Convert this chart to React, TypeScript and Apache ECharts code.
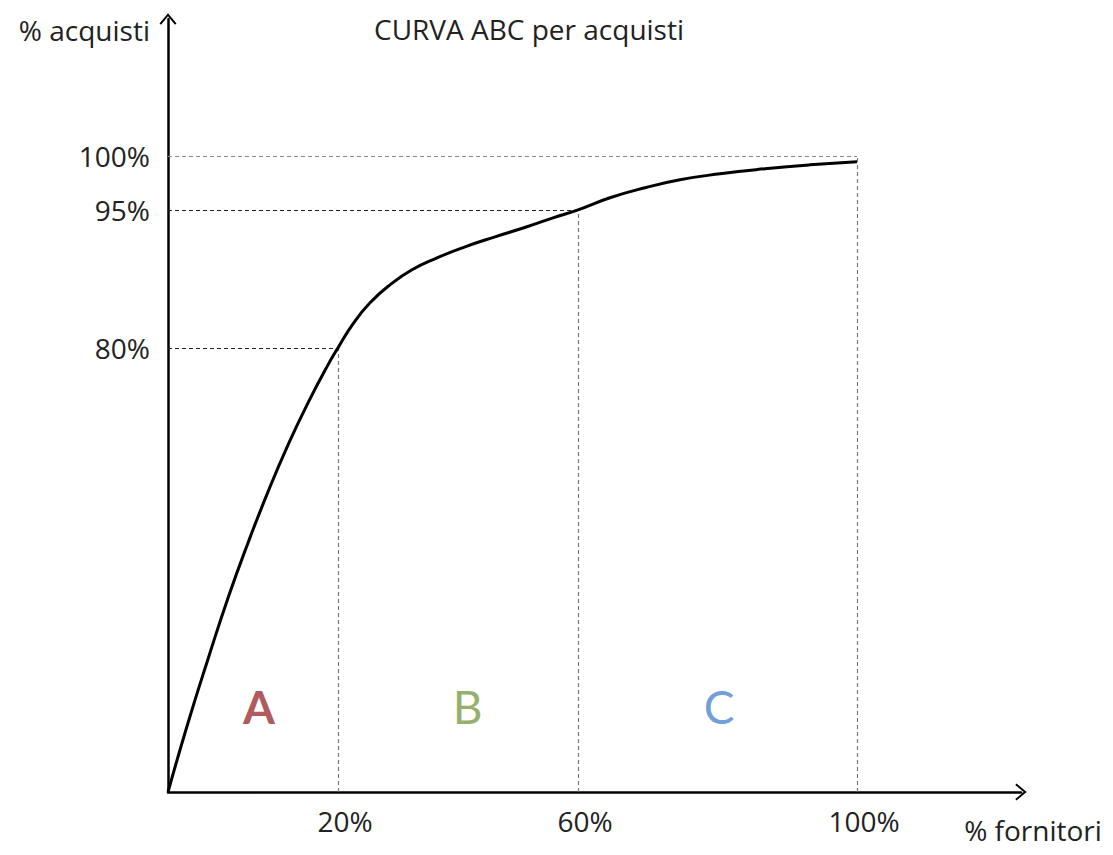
import React, { useEffect, useRef } from "react";
import * as echarts from "echarts";

// Schematic ABC curve: the picture's axes are not drawn to scale, so positions
// are in "drawing units" (0..100 between the origin and the 100% marks).
const curveX = [0, 2.9, 5.81, 8.71, 11.61, 14.51, 17.42, 20.32, 23.22, 24.67, 26.85, 29.32, 32.22, 35.41, 39.04, 43.11, 47.46, 52.1, 55.88, 59.51, 64.15, 69.23, 74.31, 80.12, 86.65, 93.18, 100];
const curveY = [0, 10.85, 20.91, 30.5, 39.15, 47.17, 54.56, 61.16, 67.14, 69.81, 73.58, 76.89, 79.72, 82.08, 83.96, 85.69, 87.26, 88.84, 90.25, 91.51, 93.4, 94.97, 96.23, 97.17, 97.96, 98.58, 99.06];

// where the schematic puts its tick marks, and what they say
const xMarkPos = [24.67, 59.51, 100];
const xMarkLabels = ["20%", "60%", "100%"];
const yMarkPos = [69.81, 91.51, 100];
const yMarkLabels = ["80%", "95%", "100%"];

// zone letters
const zoneNames = ["A", "B", "C"];
const zoneX = [13.2, 43.5, 80.0];
const zoneY = [13.5, 13.5, 13.5];
const zoneColors = ["#9b2f32", "#7b9b42", "#4a86cc"];

const titleText = "CURVA ABC per acquisti";
const xName = "% fornitori";
const yName = "% acquisti";

const FONT = "'Open Sans', Lato, sans-serif";
const LETTER_FONT = "Lato, 'Open Sans', sans-serif";
const ARROW = "path://M10 0 L20 12 L18.2 13.4 L10 3.6 L1.8 13.4 L0 12 Z";

export default function App() {
  const ref = useRef<HTMLDivElement>(null);
  useEffect(() => {
    document.body.style.margin = "0";
    const chart = echarts.init(ref.current!, undefined, { renderer: "svg" });
    const curve = curveX.map((x, i) => [x, curveY[i]]);
    const hLines = yMarkPos.map((y, i) => [
      { coord: [0, y], lineStyle: { color: i === 2 ? "#8a8a8a" : "#222", width: 1.2, type: [4, 3] } },
      { coord: [xMarkPos[i], y] },
    ]);
    const vLines = xMarkPos.map((x, i) => [
      { coord: [x, 0], lineStyle: { color: "#7a7a7a", width: 1.2, type: [4, 3] } },
      { coord: [x, yMarkPos[i]] },
    ]);
    const axisLine = {
      show: true,
      lineStyle: { color: "#000", width: 2.5 },
      symbol: ["none", ARROW],
      symbolSize: [17, 13],
    };
    chart.setOption({
      animation: false,
      backgroundColor: "#fff",
      title: {
        text: titleText,
        left: 369,
        top: 10,
        textStyle: { fontFamily: FONT, fontSize: 28, fontWeight: "normal", color: "#222" },
      },
      grid: { left: 168, right: 92, top: 19, bottom: 63, containLabel: false },
      xAxis: {
        type: "value",
        min: 0,
        max: 123.8,
        name: xName,
        nameLocation: "end",
        nameGap: 12,
        nameTextStyle: {
          fontFamily: FONT, fontSize: 28, color: "#222",
          align: "center", verticalAlign: "top", padding: [24, 0, 0, 0],
        },
        axisLine,
        axisTick: { show: false },
        splitLine: { show: false },
        axisLabel: {
          customValues: xMarkPos,
          formatter: (v: number) => {
            const i = xMarkPos.findIndex((p) => Math.abs(p - v) < 1e-6);
            return i >= 0 ? xMarkLabels[i] : "";
          },
          margin: 15,
          padding: [0, 0, 0, 14],
          fontFamily: FONT,
          fontSize: 28,
          color: "#222",
        },
      },
      yAxis: {
        type: "value",
        min: 0,
        max: 121.5,
        name: yName,
        nameLocation: "end",
        nameGap: -11,
        nameTextStyle: {
          fontFamily: FONT, fontSize: 28, color: "#222",
          align: "right", verticalAlign: "middle", padding: [0, 18, 0, 0],
        },
        axisLine,
        axisTick: { show: false },
        splitLine: { show: false },
        axisLabel: {
          customValues: yMarkPos,
          formatter: (v: number) => {
            const i = yMarkPos.findIndex((p) => Math.abs(p - v) < 1e-6);
            return i >= 0 ? yMarkLabels[i] : "";
          },
          margin: 18,
          fontFamily: FONT,
          fontSize: 28,
          color: "#222",
        },
      },
      series: [
        {
          type: "line",
          data: curve,
          smooth: 0.5,
          showSymbol: false,
          symbol: "none",
          clip: false,
          lineStyle: { color: "#000", width: 3 },
          z: 5,
          markLine: {
            silent: true,
            symbol: ["none", "none"],
            label: { show: false },
            data: [...hLines, ...vLines],
          },
        },
        {
          type: "scatter",
          symbolSize: 0,
          silent: true,
          data: zoneNames.map((n, i) => ({
            name: n,
            value: [zoneX[i], zoneY[i]],
            label: {
              show: true,
              position: "inside",
              formatter: n,
              color: zoneColors[i],
              fontFamily: LETTER_FONT,
              fontSize: 46,
              fontWeight: i === 0 ? "bold" : "normal",
            },
          })),
        },
      ],
    });
    return () => chart.dispose();
  }, []);
  return <div ref={ref} style={{ width: 1113, height: 855 }} />;
}
